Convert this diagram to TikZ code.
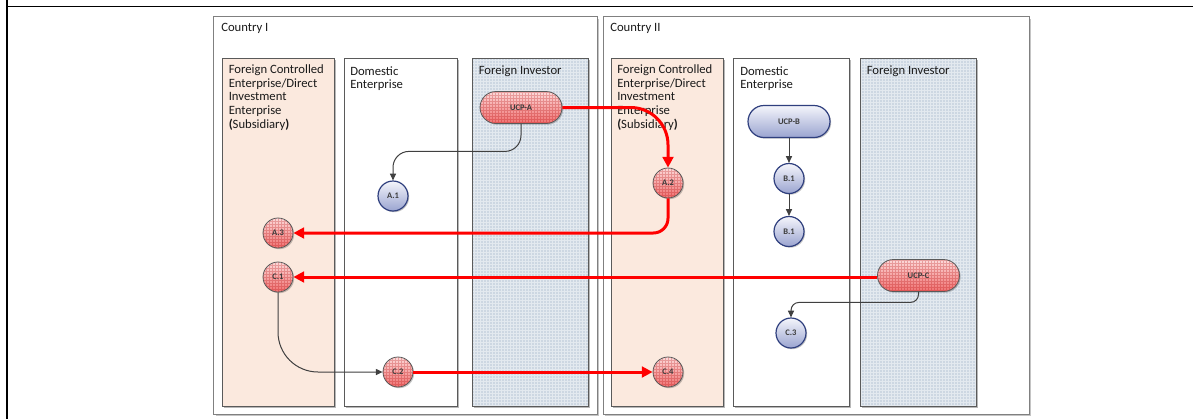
\documentclass[tikz,border=0pt]{standalone}
\usepackage{fontspec}
\setmainfont{Carlito}
\usetikzlibrary{arrows.meta,shapes.misc,shadows,calc}

\definecolor{peach}{HTML}{FBE9DE}
\definecolor{fiblue}{HTML}{CDD7E2}
\definecolor{boxgray}{HTML}{808080}
\definecolor{shadowgray}{HTML}{C4C4C4}
\definecolor{colgray}{HTML}{5A5A5A}
\definecolor{redline}{HTML}{FF0000}
\definecolor{redtop}{HTML}{FCDADA}
\definecolor{redbot}{HTML}{EF7070}
\definecolor{bluetop}{HTML}{F4F5FB}
\definecolor{bluebot}{HTML}{9AA4D0}
\definecolor{blueedge}{HTML}{2F3F7E}
\definecolor{connector}{HTML}{404040}
\definecolor{textdark}{HTML}{1A1A1A}

\newcommand\headfont{\fontsize{9.5}{10.3}\selectfont}
\newcommand\tagfont{\fontsize{6.4}{7}\selectfont\bfseries}
\newcommand\headlines[1]{\begin{tabular}[t]{@{}l@{}}#1\end{tabular}}

\begin{document}
\begin{tikzpicture}[x=0.75pt,y=-0.75pt,
  header/.style={anchor=base west, inner sep=0pt, font=\headfont, text=textdark},
  countrybox/.style={draw=boxgray, line width=0.75pt, fill=white},
  lanebox/.style={draw=colgray, line width=0.75pt},
  laneshadow/.style={fill=black, opacity=0.28},
  redgrid/.style={path picture={\draw[red!70!black, opacity=0.25, line width=0.35pt]
      (path picture bounding box.south west) grid[step=2.25pt] (path picture bounding box.north east);}},
  softshadow/.style={drop shadow={shadow xshift=0.9pt, shadow yshift=-0.9pt, fill=black, opacity=0.22}},
  redtag/.style={draw=colgray, line width=0.6pt, top color=redtop, bottom color=redbot,
      redgrid, softshadow, font=\tagfont, text=textdark!85, inner sep=0pt},
  bluetag/.style={draw=blueedge, line width=0.9pt, top color=bluetop, bottom color=bluebot,
      softshadow, font=\tagfont, text=textdark!85, inner sep=0pt},
  ball/.style={circle, minimum size=22.5pt},
  pill/.style={rounded rectangle, minimum width=61.5pt, minimum height=24pt},
  flow/.style={draw=redline, line width=2.25pt, -{Triangle[length=8pt,width=8pt]}},
  link/.style={draw=connector, line width=0.75pt, -{Triangle[length=5pt,width=4.5pt]}},
]
% page and table rules
\fill[white] (0,0) rectangle (1193,419);
\useasboundingbox (0,0) rectangle (1193,419);
\draw[line width=1.2pt] (7,0) -- (7,419);
\draw[line width=1.2pt] (7,6.5) -- (1193,6.5);

% country frames
\fill[shadowgray] (215.5,18.5) rectangle (599,416);
\draw[countrybox] (213.5,16.5) rectangle (597,414);
\fill[shadowgray] (605,18.5) rectangle (1031,416);
\draw[countrybox] (603,16.5) rectangle (1029,414);

% lanes: shadows first
\foreach \xa/\xb in {222/334.5, 344/457, 472/588, 611/723.5, 733/849.5, 860/976}
  \fill[laneshadow] (\xa+1.5,60) rectangle (\xb+1.5,408);

% subsidiary lanes
\draw[lanebox, fill=peach] (222,58.5) rectangle (334.5,406.5);
\draw[lanebox, fill=peach] (611,58.5) rectangle (723.5,406.5);
% domestic lanes
\draw[lanebox, fill=white] (344,58.5) rectangle (457,406.5);
\draw[lanebox, fill=white] (733,58.5) rectangle (849.5,406.5);
% investor lanes with woven texture
\foreach \xa/\xb in {472/588, 860/976}{
  \begin{scope}
    \clip (\xa,58.5) rectangle (\xb,406.5);
    \fill[fiblue] (\xa,58.5) rectangle (\xb,406.5);
    \draw[white, opacity=0.45, line width=0.45pt] (\xa,406.5) grid[step=2.25pt] (\xb,58.5);
  \end{scope}
  \draw[lanebox] (\xa,58.5) rectangle (\xb,406.5);
}

% titles
\node[header] (titleA) at (221,31.7) {Country I};
\node[header] (titleB) at (610,31.7) {Country II};
\node[header] (subA) at (228.5,73.3) {\headlines{Foreign Controlled\\Enterprise/Direct\\Investment\\Enterprise\\\textbf{(}Subsidiary\textbf{)}}};
\node[header] (domA) at (350,75) {\headlines{Domestic\\Enterprise}};
\node[header] (invA) at (478.5,74) {Foreign Investor};
\node[header] (subB) at (617,73.3) {\headlines{Foreign Controlled\\Enterprise/Direct\\Investment\\Enterprise\\\textbf{(}Subsidiary\textbf{)}}};
\node[header] (domB) at (740,75) {\headlines{Domestic\\Enterprise}};
\node[header] (invB) at (866.5,74) {Foreign Investor};

% enterprises
\node[redtag, pill] (ucpa) at (521,107.5) {UCP-A};
\node[bluetag, ball] (a1) at (393,196) {A.1};
\node[redtag, ball] (a2) at (668,183) {A.2};
\node[redtag, ball] (a3) at (278,233) {A.3};
\node[redtag, ball] (c1) at (278,277) {C.1};
\node[redtag, ball] (c2) at (398,372) {C.2};
\node[redtag, ball] (c4) at (668,372) {C.4};
\node[bluetag, pill] (ucpb) at (789,121.5) {UCP-B};
\node[bluetag, ball] (b1) at (789,178.5) {B.1};
\node[bluetag, ball] (b1b) at (789,231.5) {B.1};
\node[redtag, pill] (ucpc) at (918.5,275.5) {UCP-C};
\node[bluetag, ball] (c3) at (791,333) {C.3};

% domestic ownership links
\draw[link, rounded corners=12pt] (ucpa.south) |- ($(a1.north)+(0,-29)$) -- (a1.north);
\draw[link] (ucpb.south) -- (b1.north);
\draw[link] (b1.south) -- (b1b.north);
\draw[link, rounded corners=6pt] (ucpc.south) |- ($(c3.north)+(0,-15)$) -- (c3.north);
\draw[link, rounded corners=30pt] (c1.south) |- (c2.west);

% cross-border investment flows
\draw[flow, rounded corners=28pt] (ucpa.east) -| (a2.north);
\draw[flow, rounded corners=11pt] (a2.south) |- (a3.east);
\draw[flow] (ucpc.west |- c1.east) -- (c1.east);
\draw[flow] (c2.east) -- (c4.west);
\end{tikzpicture}
\end{document}
